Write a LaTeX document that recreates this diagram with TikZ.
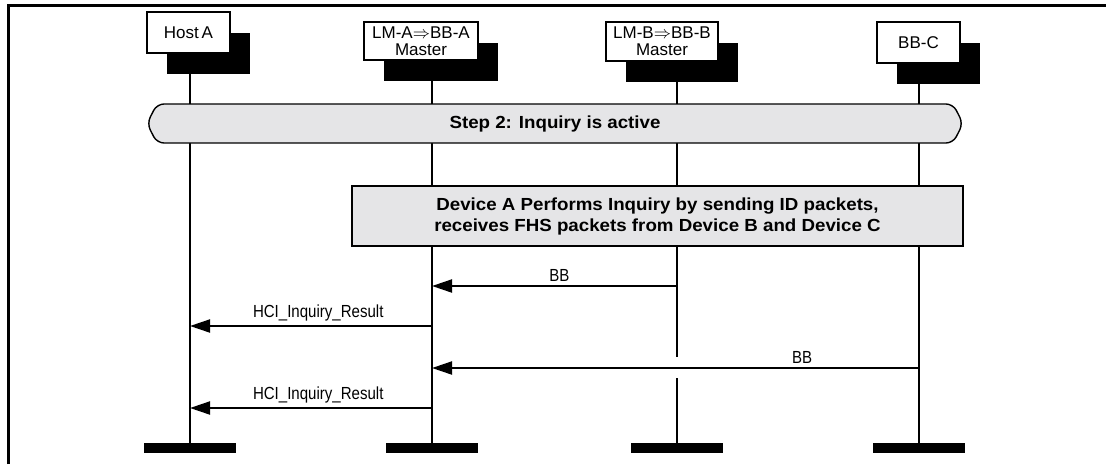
\documentclass[tikz,border=0pt]{standalone}
\usepackage{fontspec}
\setmainfont{Liberation Sans}[FakeStretch=0.86]
\newfontfamily\headfont{Liberation Sans}
\newfontfamily\widebold{Liberation Sans Bold}[FakeStretch=1.07]
\usetikzlibrary{arrows.meta,positioning,shadows,shapes.symbols}
\definecolor{stepgray}{RGB}{229,229,231}

\begin{document}
\begin{tikzpicture}[x=1pt,y=-1pt,font=\fontsize{17.5}{17}\selectfont,
  life/.style={line width=2pt},
  msg/.style={line width=2pt,-{Triangle[length=20pt,width=13pt]}},
  lbl/.style={above=2.5pt,inner sep=1pt}]
  \tikzstyle{head}=[draw=black,line width=1.4pt,fill=white,align=center,inner sep=0pt,
    font=\fontsize{17}{17}\headfont,
    drop shadow={shadow xshift=20pt,shadow yshift=-21pt,opacity=1,fill=black}]
  \tikzstyle{endbar}=[fill=black,minimum width=92pt,minimum height=10pt,inner sep=0pt]
\useasboundingbox (0,0) rectangle (1106,464);
% frame
\draw[line width=3pt] (8.5,464) -- (8.5,5.5) -- (1106,5.5);
% instances
\node[head,minimum width=83pt,minimum height=41pt] (hostA) at (188.5,32.5) {Host\,A};
\node[head,minimum width=114pt,minimum height=38pt] (lmA) at (421,41) {LM-A$\Rightarrow$BB-A\\Master};
\node[head,minimum width=112pt,minimum height=39pt] (lmB) at (662,41.5) {LM-B$\Rightarrow$BB-B\\Master};
\node[head,minimum width=83pt,minimum height=41pt] (bbC) at (918.5,42.5) {BB-C};
\node[endbar] (endA) at (190,448) {};
\node[endbar] (endLA) at (432,448) {};
\node[endbar] (endLB) at (677,448) {};
\node[endbar] (endC) at (919,448) {};
% lifelines
\coordinate (gap1) at (0,357);
\coordinate (gap2) at (0,378);
\draw[life] (endA |- hostA.south) -- (endA.north);
\draw[life] (endLA |- lmA.south) -- (endLA.north);
\draw[life] (endLB |- lmB.south) -- (endLB |- gap1);
\draw[life] (endLB |- gap2) -- (endLB.north);
\draw[life] (endC |- bbC.south) -- (endC.north);
% conditions
\node[signal,signal to=west and east,signal pointer angle=126,draw,fill=stepgray,
  line width=1.4pt,rounded corners=7pt,minimum width=816pt,minimum height=39pt,
  font=\fontsize{17.5}{17}\widebold] (step) at (555,123.5) {Step 2: Inquiry is active};
\node[draw,fill=stepgray,line width=2pt,minimum width=611pt,minimum height=60pt,align=center,
  font=\fontsize{17.5}{21}\widebold] (inq) at (657.5,216)
  {Device A Performs Inquiry by sending ID packets,\\receives FHS packets from Device B and Device C};
% messages
\coordinate (m1) at (0,286);
\coordinate (m2) at (0,326);
\coordinate (m3) at (0,368);
\coordinate (m4) at (0,408);
\draw[msg] (endLB |- m1) -- node[lbl,pos=0.48] {BB} (endLA |- m1);
\draw[msg] (endLA |- m2) -- node[lbl,pos=0.47] {HCI\_Inquiry\_Result} (endA |- m2);
\draw[msg] (endC |- m3) -- node[lbl,pos=0.24] {BB} (endLA |- m3);
\draw[msg] (endLA |- m4) -- node[lbl,pos=0.47] {HCI\_Inquiry\_Result} (endA |- m4);
\end{tikzpicture}
\end{document}
